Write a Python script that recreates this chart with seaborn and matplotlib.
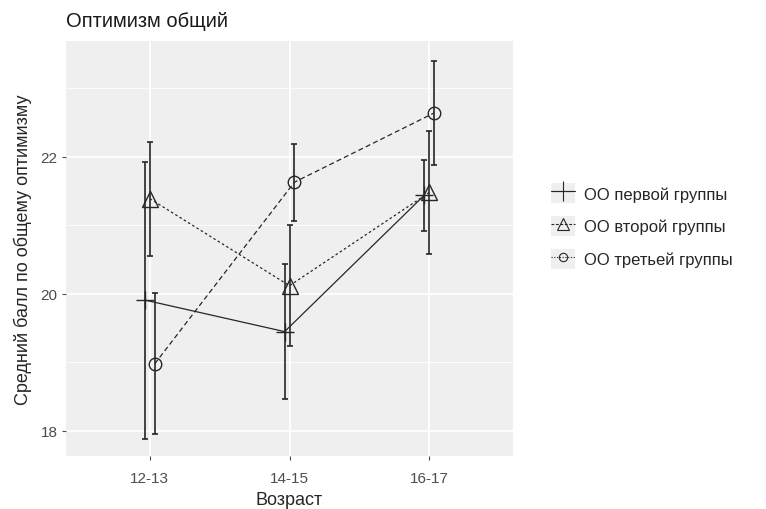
import numpy as np
import pandas as pd
import matplotlib
matplotlib.use("Agg")
import matplotlib.pyplot as plt
import seaborn as sns
from matplotlib.lines import Line2D
from matplotlib.patches import Rectangle
from matplotlib.legend_handler import HandlerLine2D

# --- data ---
ages = ["12-13", "14-15", "16-17"]
groups = ["ОО первой группы", "ОО второй группы", "ОО третьей группы"]
mean_g1 = [19.91, 19.45, 21.44]
err_g1 = [2.02, 0.99, 0.52]
mean_g2 = [21.39, 20.12, 21.48]
err_g2 = [0.83, 0.88, 0.90]
mean_g3 = [18.98, 21.63, 22.64]
err_g3 = [1.03, 0.56, 0.76]

means = [mean_g1, mean_g2, mean_g3]
errs = [err_g1, err_g2, err_g3]

# styles per group (ggplot shapes 3, 2, 1)
markers = ["+", "^", "o"]
marker_sizes = [13, 11, 9]
legend_marker_sizes = [14, 8, 6]
linestyles = ["-", (0, (2, 2)), (0, (4, 2.5))]
legend_linestyles = ["-", (0, (2.5, 1.5)), (0, (1, 1.5))]
dodge = [-0.035, 0.0, 0.035]
ink = "#262626"
panel_bg = "#EFEFEF"


class KeyBoxHandler(HandlerLine2D):
    """ggplot-like legend key: grey square behind the line+marker."""

    def create_artists(self, legend, orig_handle, xdescent, ydescent,
                       width, height, fontsize, trans):
        box = Rectangle((-xdescent, -ydescent), width, height,
                        facecolor=panel_bg, edgecolor="none", transform=trans)
        arts = super().create_artists(legend, orig_handle, xdescent, ydescent,
                                      width, height, fontsize, trans)
        return [box] + list(arts)


sns.set_theme(style="darkgrid")
plt.rcParams["font.family"] = ["Liberation Sans", "DejaVu Sans"]
plt.rcParams["axes.facecolor"] = panel_bg

fig = plt.figure(figsize=(7.66, 5.10), dpi=100)
ax = fig.add_axes([0.0862, 0.1039, 0.5835, 0.8137])

x_base = np.arange(len(ages))
for i, g in enumerate(groups):
    xpos = x_base + dodge[i]
    df = pd.DataFrame({"x": xpos, "y": means[i]})
    sns.lineplot(data=df, x="x", y="y", ax=ax, color=ink, linewidth=0.9,
                 linestyle=linestyles[i], marker=markers[i],
                 markersize=marker_sizes[i], markerfacecolor="none",
                 markeredgecolor=ink, markeredgewidth=1.0, legend=False)
    ax.errorbar(xpos, means[i], yerr=errs[i], fmt="none", ecolor=ink,
                elinewidth=1.2, capsize=2.5, capthick=1.2)

ax.set_xlim(-0.6, 2.6)
ax.set_ylim(17.635, 23.69)
ax.set_xticks(x_base)
ax.set_xticklabels(ages)
ax.set_yticks([18, 20, 22])
ax.set_yticks([19, 21, 23], minor=True)
ax.grid(which="major", color="white", linewidth=1.3)
ax.grid(which="minor", axis="y", color="white", linewidth=0.6)
for s in ax.spines.values():
    s.set_visible(False)
ax.tick_params(axis="both", which="major", length=3, width=0.8, color="#4d4d4d",
               labelsize=11, labelcolor="#4d4d4d", pad=3, left=True, bottom=True)
ax.tick_params(axis="x", which="major", pad=8)
ax.tick_params(axis="y", which="minor", length=0)

ax.set_xlabel("Возраст", fontsize=13, color="#262626", labelpad=4)
ax.set_ylabel("Средний балл по общему оптимизму", fontsize=13, color="#262626", labelpad=6)
fig.text(0.0862, 0.957, "Оптимизм общий", fontsize=14.5, color="#1a1a1a",
         ha="left", va="center")

handles = [
    Line2D([0], [0], color=ink, linewidth=0.8, linestyle=legend_linestyles[i],
           marker=markers[i], markersize=legend_marker_sizes[i],
           markerfacecolor="none", markeredgecolor=ink, markeredgewidth=0.8)
    for i in range(len(groups))
]
leg = fig.legend(handles, groups, loc="center left", bbox_to_anchor=(0.70, 0.555),
                 frameon=False, fontsize=12, handlelength=1.45, handleheight=1.45,
                 handletextpad=0.5, labelspacing=0.78,
                 handler_map={Line2D: KeyBoxHandler()})

fig.savefig("out.png", dpi=100)
